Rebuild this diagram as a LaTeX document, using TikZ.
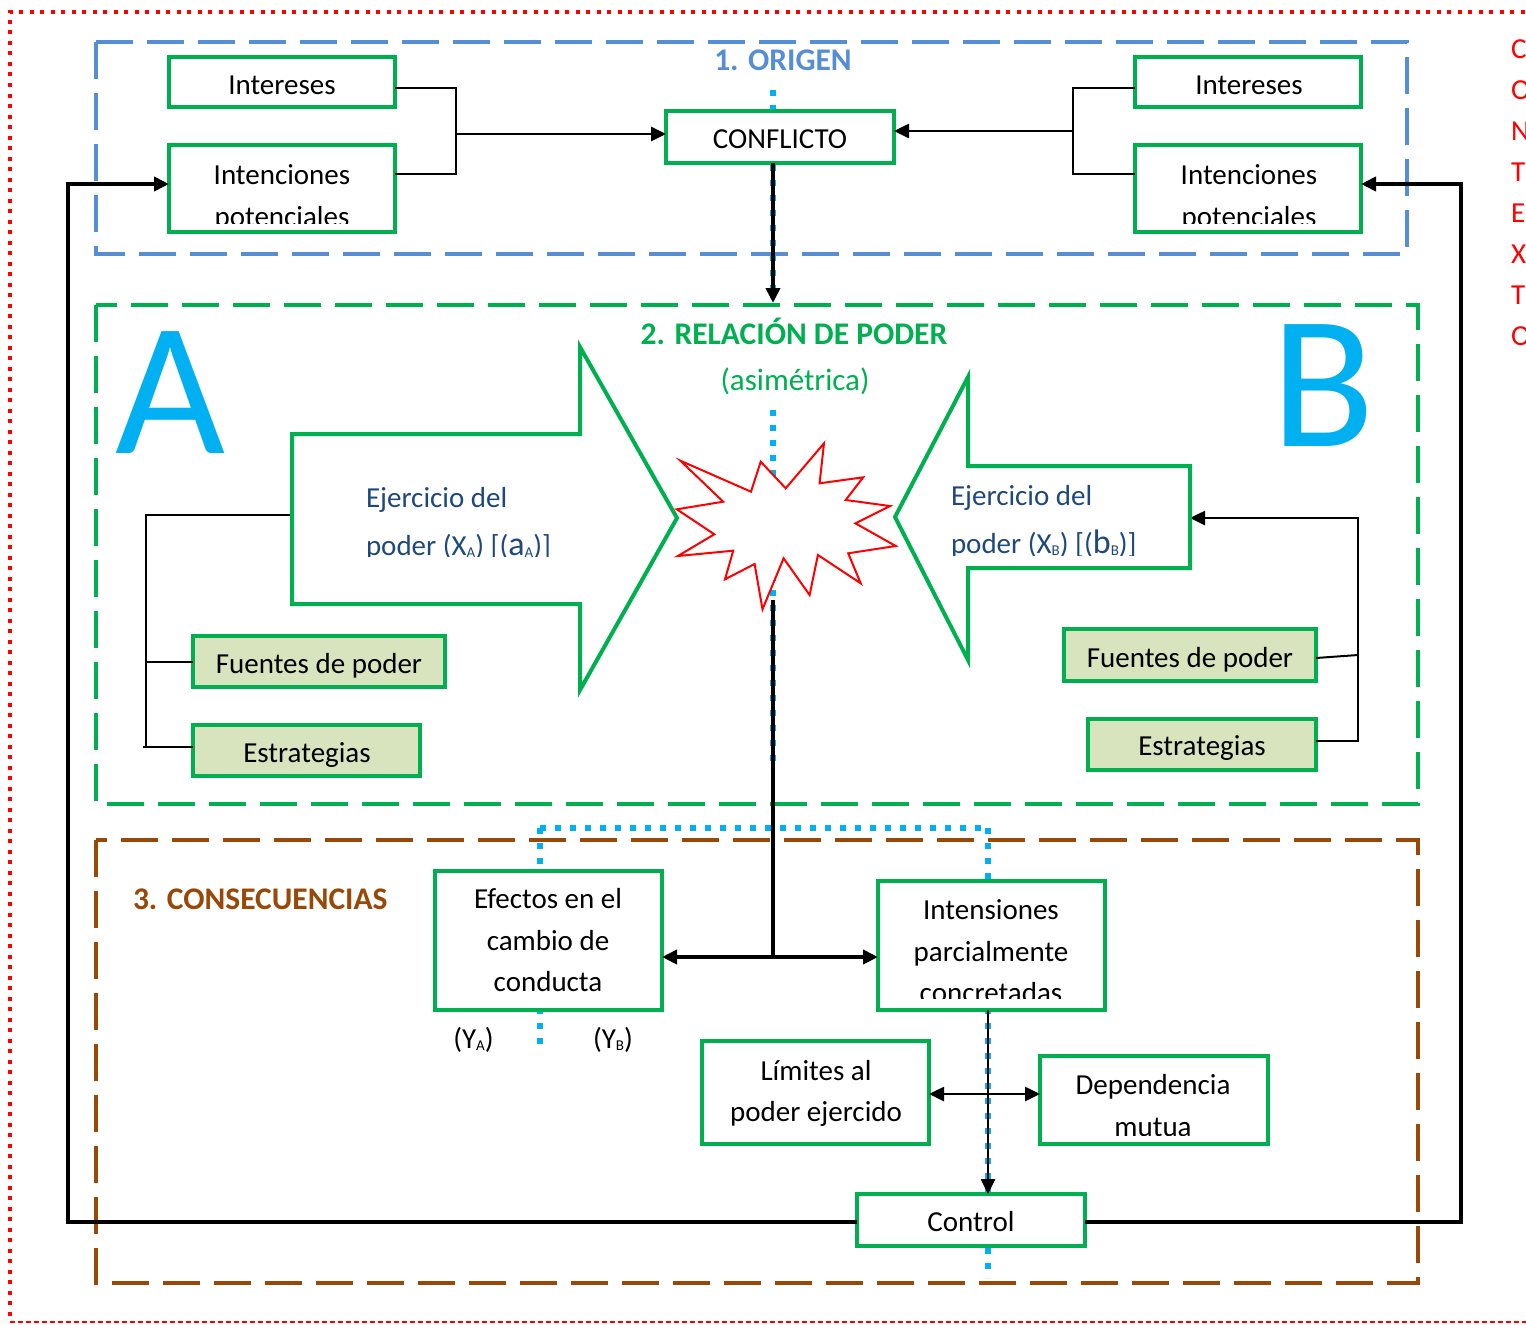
\documentclass[tikz,border=0pt]{standalone}
\usepackage{fontspec}
\setmainfont{Carlito}
\usetikzlibrary{arrows.meta}

\definecolor{grn}{HTML}{00B050}
\definecolor{oblue}{HTML}{558ED5}
\definecolor{brn}{HTML}{984807}
\definecolor{sky}{HTML}{00B0F0}
\definecolor{olive}{RGB}{215,228,189}
\definecolor{navy}{RGB}{31,73,125}
\definecolor{ctxred}{HTML}{FF0000}

% small lowered index and enlarged letter used in the power labels
\newcommand\lowidx[1]{\raisebox{-2.5pt}{\fontsize{15}{15}\selectfont #1}}
\newcommand\tallchar[1]{{\fontsize{34}{34}\selectfont #1}}

\begin{document}
\begin{tikzpicture}[x=1pt,y=-1pt,
  every node/.style={inner sep=0pt,outer sep=0pt},
  bodyfont/.style={font=\fontsize{29}{41.5}\selectfont},
  gbox/.style={draw=grn,line width=4pt,fill=white,inner sep=0pt},
  obox/.style={gbox,fill=olive},
  sect/.style={line width=4pt,dash pattern=on 37pt off 14pt},
  mtxt/.style={bodyfont,align=center},
  stxt/.style={bodyfont,anchor=base},
  thinln/.style={line width=2pt},
  midln/.style={line width=2.6pt},
  fatln/.style={line width=4.5pt},
  dotln/.style={draw=sky,line width=6pt,dash pattern=on 6pt off 9pt},
  gshape/.style={draw=grn,line width=4pt,fill=white,line join=miter},
  >={Triangle[length=15pt,width=14pt]}
]
\useasboundingbox (0,0) rectangle (1526,1325);
\clip (0,0) rectangle (1526,1325);

% ---------- context frame ----------
\draw[ctxred,line width=4pt,dash pattern=on 4pt off 6.5pt] (1535,12) -- (10,12) -- (10,1322);
\draw[ctxred,line width=1.8pt,dash pattern=on 5pt off 3pt] (10,1322) -- (1535,1322);
\foreach \l [count=\i from 0] in {C,O,N,T,E,X,T,O}
  \node[anchor=base west,bodyfont,text=ctxred] (ctx\i) at (1511,{58.3+41*\i}) {\l};

% ---------- section frames ----------
\draw[sect,draw=oblue] (96,42) rectangle (1407,254);
\draw[sect,draw=grn] (96,305) rectangle (1418,804);
\draw[sect,draw=brn] (96,840) rectangle (1418,1283);

% ---------- dotted guide (drawn below the boxes) ----------
\coordinate (dTop) at (773,90);
\coordinate (dA) at (773,300);
\coordinate (dB) at (773,410);
\coordinate (dC) at (773,770);
\coordinate (dL) at (540,828);
\coordinate (dR) at (988,828);
\coordinate (dLend) at (540,1050);
\coordinate (dRend) at (988,1278);
\draw[dotln] (dTop) -- (dA);
\draw[dotln] (dB) -- (dC);
\draw[dotln] (dL) -- (dR);
\draw[dotln] (dL) -- (dLend);
\draw[dotln] (dR) -- (dRend);

% ---------- boxes ----------
\node[gbox,minimum width=226pt,minimum height=50pt] (intL) at (282,82) {};
\node[gbox,minimum width=226pt,minimum height=87pt] (itnL) at (282,188.5) {};
\node[gbox,minimum width=226pt,minimum height=50pt] (intR) at (1248,82) {};
\node[gbox,minimum width=226pt,minimum height=87pt] (itnR) at (1248,188.5) {};
\node[gbox,minimum width=228pt,minimum height=52pt] (conf) at (780,137) {};
\node[obox,minimum width=252pt,minimum height=51pt] (fuL) at (319,661.5) {};
\node[obox,minimum width=227pt,minimum height=51pt] (esL) at (306.5,750.5) {};
\node[obox,minimum width=252pt,minimum height=52pt] (fuR) at (1190,655) {};
\node[obox,minimum width=228pt,minimum height=51pt] (esR) at (1202,744.5) {};
\node[gbox,minimum width=227pt,minimum height=139pt] (efe) at (548.5,940.5) {};
\node[gbox,minimum width=227pt,minimum height=129pt] (ins) at (991.5,945.5) {};
\node[gbox,minimum width=227pt,minimum height=103pt] (lim) at (815.5,1092.5) {};
\node[gbox,minimum width=228pt,minimum height=88pt] (dep) at (1154,1100) {};
\node[gbox,minimum width=228pt,minimum height=52pt] (ctl) at (971,1220) {};

% ---------- junction points ----------
\coordinate (jL) at (456,134);
\coordinate (jR) at (1073,131);
\coordinate (relTop) at (773,303);
\coordinate (fbL) at (68,184);
\coordinate (fbR) at (1461,184);
\coordinate (aIn) at (292,515);
\coordinate (aTop) at (146,515);
\coordinate (aBot) at (146,747);
\coordinate (bIn) at (1190,518);
\coordinate (bTop) at (1358,518);
\coordinate (bMid) at (1358,655);
\coordinate (bBot) at (1358,741);
\coordinate (burstBot) at (773,600);
\coordinate (jC) at (773,957);

% ---------- origin connectors ----------
\draw[thinln] ([yshift=-6pt]intL.east) -| (jL) |- ([yshift=14.5pt]itnL.east);
\draw[midln,->] (jL) -- (jL -| conf.west);
\draw[thinln] ([yshift=-6pt]intR.west) -| (jR) |- ([yshift=14.5pt]itnR.west);
\draw[midln,->] (jR) -- (jR -| conf.east);
\draw[fatln,->] (conf.south -| relTop) -- (relTop);

% ---------- feedback loop ----------
\draw[fatln,->] ([yshift=-2pt]ctl.west) -| (fbL) -- ([yshift=4.5pt]itnL.west);
\draw[fatln,->] ([yshift=-2pt]ctl.east) -| (fbR) -- ([yshift=4.5pt]itnR.east);

% ---------- actor A and B brackets ----------
\draw[thinln] (aIn) -- (aTop) -- (aBot);
\draw[thinln] (aTop |- fuL.west) -- (fuL.west);
\draw[thinln] ([xshift=-3pt]aBot) -- (aBot -| esL.west);
\draw[midln,->] (esR.east |- bBot) -- (bBot) -- (bTop) -- (bIn);
\draw[thinln] ([yshift=-3pt]fuR.east) -- (bMid);

% ---------- consequences ----------
\draw[fatln] (burstBot) -- (jC);
\draw[fatln,<->] (jC -| efe.east) -- (jC -| ins.west);
\draw[midln,->] ([xshift=-3.5pt]ins.south) -- ([xshift=17pt]ctl.north);
\draw[midln,<->] ([yshift=-1.5pt]lim.east) -- ([yshift=6pt]dep.west);

% ---------- power arrows ----------
\draw[gshape] (292,434) -- (580,434) -- (580,347) -- (677,518) -- (580,690) -- (580,604) -- (292,604) -- cycle;
\draw[gshape] (1190,466) -- (968,466) -- (968,377) -- (895,517) -- (968,660) -- (968,568) -- (1190,568) -- cycle;

% ---------- clash ----------
\draw[ctxred,line width=2pt,fill=white,line join=miter]
  (680.4,460.7) -- (751,491.7) -- (760.7,461.7) -- (785.7,488.3) -- (824,443.3)
  -- (819.6,483.3) -- (863.2,477.3) -- (845.7,500) -- (890,506) -- (855.4,523.3)
  -- (895.7,546) -- (848.2,553.3) -- (860.7,583.3) -- (817.9,555) -- (809.6,595)
  -- (783.6,558.3) -- (762.5,609.3) -- (754.6,564) -- (725,579.3) -- (733.2,550.7)
  -- (677.9,556) -- (714.3,534.3) -- (676.8,509.3) -- (723.2,501.7) -- cycle;

% ---------- titles ----------
\node[anchor=base,font=\fontsize{31.5}{36}\selectfont\bfseries,text=oblue] (t1) at (783,70) {1. ORIGEN};
\node[anchor=base,font=\fontsize{31.5}{36}\selectfont\bfseries,text=grn] (t2) at (794,344.3) {2. RELACIÓN DE PODER};
\node[anchor=base,font=\fontsize{31}{36}\selectfont,text=grn] (t2b) at (795,390) {(asimétrica)};
\node[anchor=base west,font=\fontsize{31.5}{36}\selectfont\bfseries,text=brn] (t3) at (133,909.3) {3. CONSECUENCIAS};
\node[anchor=base,font=\fontsize{190}{190}\selectfont,text=sky] (bigA) at (170,453) {A};
\node[anchor=base,font=\fontsize{190}{190}\selectfont,text=sky] (bigB) at (1323,446) {B};

% ---------- box texts ----------
\node[stxt] (intLt) at (282,94.3) {Intereses};
\node[stxt] (intRt) at (1249,94.3) {Intereses};
\begin{scope}
  \clip (169,147) rectangle (395,223);
  \node[mtxt] (itnLt) at (282,197) {\strut Intenciones\\potenciales\strut};
\end{scope}
\begin{scope}
  \clip (1135,147) rectangle (1361,223);
  \node[mtxt] (itnRt) at (1249,197) {\strut Intenciones\\potenciales\strut};
\end{scope}
\node[stxt] (conft) at (780,148.3) {CONFLICTO};
\node[stxt] (fuLt) at (319,673.3) {Fuentes de poder};
\node[stxt] (esLt) at (307,762.7) {Estrategias};
\node[stxt] (fuRt) at (1190,667.7) {Fuentes de poder};
\node[stxt] (esRt) at (1202,755) {Estrategias};

\begin{scope}
  \clip (294,436) rectangle (578,556);
  \node[anchor=base west,bodyfont,text=navy] (ejA1) at (366,507.3) {Ejercicio del};
  \node[anchor=base west,bodyfont,text=navy] (ejA2) at (366,555) {poder (X\lowidx{A}) [(\tallchar{a}\lowidx{A})]};
\end{scope}
\begin{scope}
  \clip (905,468) rectangle (1188,555);
  \node[anchor=base west,bodyfont,text=navy] (ejB1) at (951,505) {Ejercicio del};
  \node[anchor=base west,bodyfont,text=navy] (ejB2) at (951,553.3) {poder (X\lowidx{B}) [(\tallchar{b}\lowidx{B})]};
\end{scope}

\node[mtxt] (efet) at (548,942) {\strut Efectos en el\\cambio de\\conducta\strut};
\begin{scope}
  \clip (878,881) rectangle (1105,998.5);
  \node[mtxt] (inst) at (991,953) {\strut Intensiones\\parcialmente\\concretadas\strut};
\end{scope}
\node[mtxt] (limt) at (816,1092.5) {\strut Límites al\\poder ejercido\strut};
\begin{scope}
  \clip (1040,1056) rectangle (1268,1135);
  \node[mtxt] (dept) at (1153,1107) {\strut Dependencia\\mutua\strut};
\end{scope}
\node[stxt] (ctlt) at (971,1231.7) {Control};
\node[stxt] (ya) at (473.5,1048) {(Y\lowidx{A})};
\node[stxt] (yb) at (613,1048) {(Y\lowidx{B})};

\end{tikzpicture}
\end{document}
